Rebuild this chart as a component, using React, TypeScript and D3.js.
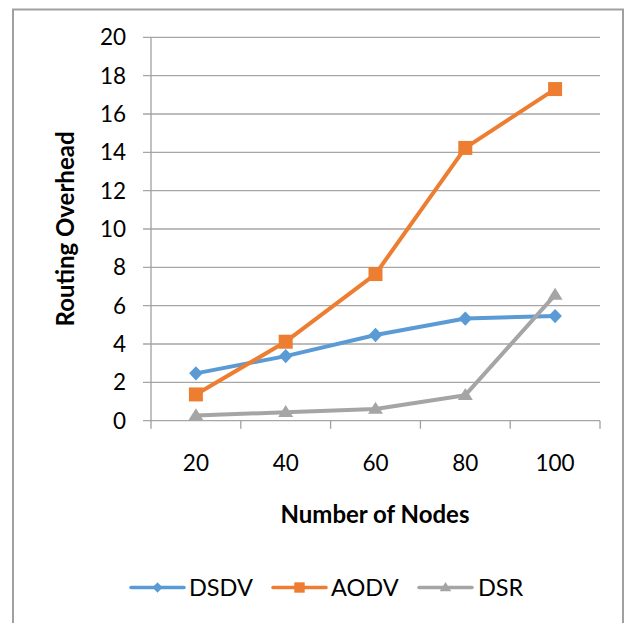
import React from "react";
import * as d3 from "d3";

// Number of nodes in the simulated network
const nodeCounts = ["20", "40", "60", "80", "100"];

// Routing overhead per protocol
const dsdvValues = [2.47, 3.37, 4.47, 5.33, 5.46];
const aodvValues = [1.37, 4.12, 7.65, 14.23, 17.3];
const dsrValues = [0.27, 0.44, 0.61, 1.33, 6.56];

const yTicks = [0, 2, 4, 6, 8, 10, 12, 14, 16, 18, 20];

const seriesNames = ["DSDV", "AODV", "DSR"];

type Marker = "diamond" | "square" | "triangle";

const series: { name: string; values: number[]; color: string; marker: Marker }[] = [
  { name: seriesNames[0], values: dsdvValues, color: "#5B9BD5", marker: "diamond" },
  { name: seriesNames[1], values: aodvValues, color: "#ED7D31", marker: "square" },
  { name: seriesNames[2], values: dsrValues, color: "#A5A5A5", marker: "triangle" },
];

const W = 630;
const H = 623;
const FONT = "Lato, 'Open Sans', sans-serif";

// Marker outline centred on (0,0); r is the half-width of the glyph
function markerPath(kind: Marker, r: number): string {
  const p = d3.path();
  if (kind === "diamond") {
    p.moveTo(0, -r * 1.05);
    p.lineTo(r, 0);
    p.lineTo(0, r * 1.05);
    p.lineTo(-r, 0);
  } else if (kind === "square") {
    p.rect(-r, -r, 2 * r, 2 * r);
  } else {
    const h = r * 1.6;
    p.moveTo(0, -h * 0.6);
    p.lineTo(r, h * 0.4);
    p.lineTo(-r, h * 0.4);
  }
  p.closePath();
  return p.toString();
}

export default function App() {
  const x = d3.scaleBand<string>().domain(nodeCounts).range([151, 600]).padding(0);
  const y = d3.scaleLinear().domain([0, 20]).range([420.7, 37.3]);
  const cx = (c: string) => (x(c) as number) + x.bandwidth() / 2;

  const line = d3
    .line<number>()
    .x((_, i) => cx(nodeCounts[i]))
    .y((v) => y(v));

  const boundaries = nodeCounts.map((c) => x(c) as number).concat([600]);

  const legendItems = [
    { lineX: 131, textX: 189 },
    { lineX: 273, textX: 331 },
    { lineX: 419, textX: 478 },
  ];

  const plotR: Record<Marker, number> = { diamond: 6.8, square: 7, triangle: 7.5 };
  const legendR: Record<Marker, number> = { diamond: 5, square: 5.2, triangle: 5.8 };

  return (
    <svg
      width={W}
      height={H}
      style={{ position: "absolute", left: 0, top: 0, background: "#fff" }}
      fontFamily={FONT}
    >
      <rect x={0} y={0} width={W} height={H} fill="#fff" />
      {/* chart frame */}
      <rect x={13} y={9.5} width={610} height={700} fill="none" stroke="#a0a0a0" strokeWidth={2} />

      {/* horizontal gridlines */}
      {yTicks.map((t) => (
        <line key={t} x1={143} x2={600} y1={y(t)} y2={y(t)} stroke="#a6a6a6" strokeWidth={1.3} />
      ))}
      {/* value axis */}
      <line x1={151} x2={151} y1={y(20)} y2={y(0)} stroke="#a0a0a0" strokeWidth={1.3} />
      {/* category tick marks */}
      {boundaries.map((b, i) => (
        <line key={i} x1={b} x2={b} y1={y(0)} y2={y(0) + 8} stroke="#a0a0a0" strokeWidth={1.3} />
      ))}

      {/* y tick labels */}
      {yTicks.map((t) => (
        <text key={t} x={126} y={y(t)} dy="0.35em" textAnchor="end" fontSize={22.5} fill="#000">
          {t}
        </text>
      ))}
      {/* x tick labels */}
      {nodeCounts.map((c) => (
        <text key={c} x={cx(c)} y={463} dy="0.35em" textAnchor="middle" fontSize={22.5} fill="#000">
          {c}
        </text>
      ))}

      {/* axis titles */}
      <text x={375} y={515} dy="0.35em" textAnchor="middle" fontSize={24} fontWeight="bold" fill="#000">
        Number of Nodes
      </text>
      <text
        transform="translate(66,229) rotate(-90)"
        dy="0.35em"
        textAnchor="middle"
        fontSize={24}
        fontWeight="bold"
        fill="#000"
      >
        Routing Overhead
      </text>

      {/* series */}
      {series.map((s) => (
        <g key={s.name}>
          <path d={line(s.values) as string} fill="none" stroke={s.color} strokeWidth={4} strokeLinejoin="round" />
          {s.values.map((v, i) => (
            <path
              key={i}
              d={markerPath(s.marker, plotR[s.marker])}
              transform={`translate(${cx(nodeCounts[i])},${y(v)})`}
              fill={s.color}
            />
          ))}
        </g>
      ))}

      {/* legend */}
      {series.map((s, i) => {
        const it = legendItems[i];
        const ly = 587.5;
        return (
          <g key={s.name}>
            <line x1={it.lineX} x2={it.lineX + 53} y1={ly} y2={ly} stroke={s.color} strokeWidth={3.5} strokeLinecap="round" />
            <path
              d={markerPath(s.marker, legendR[s.marker])}
              transform={`translate(${it.lineX + 26.5},${ly})`}
              fill={s.color}
            />
            <text x={it.textX} y={ly} dy="0.35em" fontSize={23.5} fill="#000">
              {s.name}
            </text>
          </g>
        );
      })}
    </svg>
  );
}
